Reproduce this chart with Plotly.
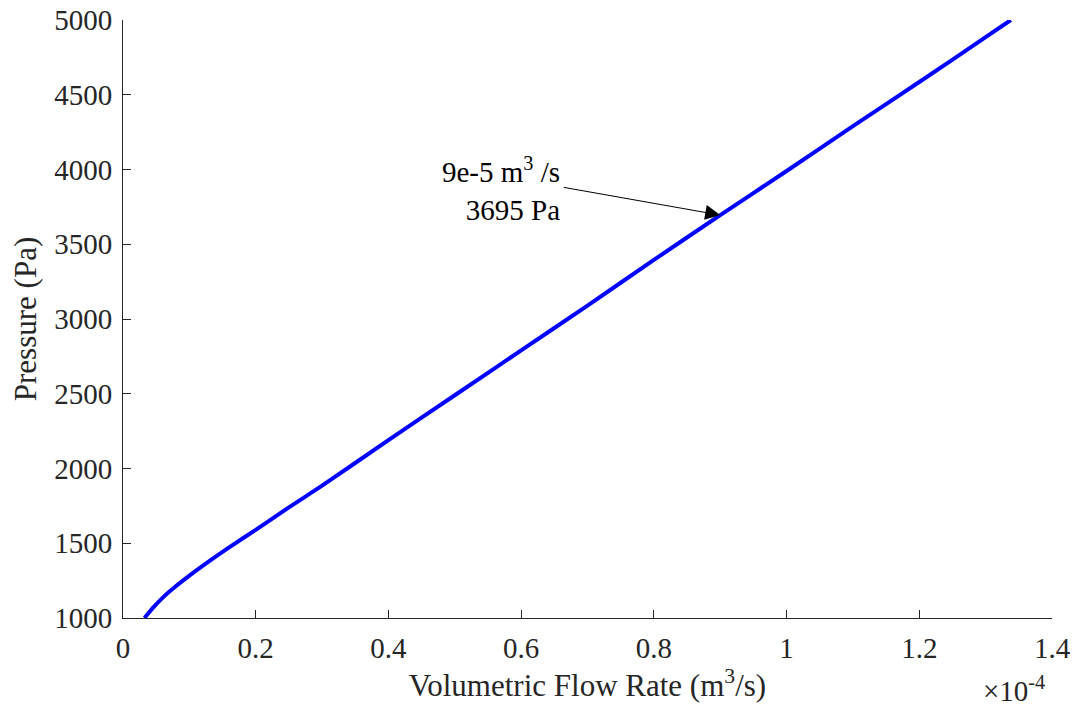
import plotly.graph_objects as go

# Volumetric flow rate in units of 1e-4 m^3/s
flow_rate_1e4 = [0.0324, 0.045, 0.0615, 0.08, 0.0967, 0.13, 0.16, 0.2, 0.25, 0.3,
                 0.4, 0.5, 0.6, 0.7, 0.8, 0.9, 1.0, 1.1, 1.2, 1.3, 1.338]
pressure_pa = [1000, 1068, 1143, 1214, 1272, 1380, 1472, 1590, 1740, 1885,
               2190, 2490, 2790, 3090, 3395, 3695, 3990, 4290, 4585, 4885, 5000]

x_ticks = [0, 0.2, 0.4, 0.6, 0.8, 1.0, 1.2, 1.4]
x_ticktext = ["0", "0.2", "0.4", "0.6", "0.8", "1", "1.2", "1.4"]
y_ticks = [1000, 1500, 2000, 2500, 3000, 3500, 4000, 4500, 5000]

mark_x = 0.9
mark_y = 3695

FONT = "Liberation Serif, Times New Roman, serif"
AX = "#262626"

fig = go.Figure()
fig.add_trace(go.Scatter(x=flow_rate_1e4, y=pressure_pa, mode="lines",
                         line=dict(color="#0000FF", width=4, shape="spline", smoothing=0.8),
                         showlegend=False))

fig.update_layout(
    width=1075, height=715,
    margin=dict(l=123, r=23, t=20, b=97),
    plot_bgcolor="white", paper_bgcolor="white",
    font=dict(family=FONT, size=29, color=AX),
    xaxis=dict(range=[0, 1.4], tickvals=x_ticks, ticktext=x_ticktext, automargin=False,
               showgrid=False, zeroline=False, showline=True, linecolor=AX, linewidth=1,
               ticks="inside", ticklen=8, tickcolor=AX, ticklabelstandoff=4,
               title=dict(text="Volumetric Flow Rate (m<sup>3</sup>/s)", font=dict(size=31, color=AX),
                          standoff=8)),
    yaxis=dict(range=[1000, 5000], tickvals=y_ticks, automargin=False,
               showgrid=False, zeroline=False, showline=True, linecolor=AX, linewidth=1,
               ticks="inside", ticklen=8, tickcolor=AX, ticklabelstandoff=4,
               title=dict(text="Pressure (Pa)", font=dict(size=31, color=AX), standoff=8)),
)

# arrow
fig.add_annotation(x=mark_x, y=mark_y, xref="x", yref="y", text="",
                   showarrow=True, arrowhead=2, arrowsize=3, arrowwidth=1, arrowcolor="black",
                   axref="pixel", ayref="pixel", ax=-158, ay=-28)
# label
fig.add_annotation(x=0.662, y=3870, xref="x", yref="y",
                   text="9e-5 m<sup>3</sup> /s<br>3695 Pa", showarrow=False,
                   xanchor="right", yanchor="middle", align="right",
                   font=dict(family=FONT, size=29, color="black"))
# exponent
fig.add_annotation(x=0.995, y=-0.085, xref="paper", yref="paper",
                   text="×10<sup>-4</sup>", showarrow=False,
                   xanchor="right", yanchor="top", font=dict(family=FONT, size=29, color=AX))

fig.write_html("out.html")
